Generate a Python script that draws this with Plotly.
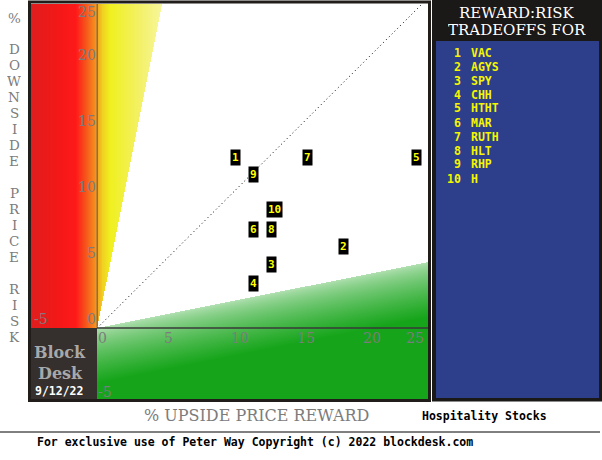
import zlib, struct, base64
import numpy as np
import plotly.graph_objects as go

# ---- data ----
ranks = [1, 2, 3, 4, 5, 6, 7, 8, 9, 10]
tickers = ["VAC", "AGYS", "SPY", "CHH", "HTHT", "MAR", "RUTH", "HLT", "RHP", "H"]
upside = [10.45, 18.6, 13.2, 11.8, 24.1, 11.8, 15.9, 13.2, 11.8, 13.4]
downside = [12.95, 6.2, 4.8, 3.4, 12.95, 7.5, 12.95, 7.5, 11.65, 8.95]
x_ticks = [0, 5, 10, 15, 20, 25]
y_ticks = [0, 5, 10, 15, 20, 25]
date_label = "9/12/22"
subtitle = "Hospitality Stocks"

X0, X1 = -5.0, 25.0
Y0, Y1 = -5.45, 24.55
W, H = 397, 396

# ---- background image (zones) ----
xs = X0 + (np.arange(W) + 0.5) * (X1 - X0) / W
ys = Y1 - (np.arange(H) + 0.5) * (Y1 - Y0) / H
XX, YY = np.meshgrid(xs, ys)
img = np.full((H, W, 3), 255.0)

def interp_colors(v, stops):
    pos = np.array([s[0] for s in stops])
    cols = np.array([s[1] for s in stops], dtype=float)
    out = np.zeros(v.shape + (3,))
    for c in range(3):
        out[..., c] = np.interp(v, pos, cols[:, c])
    return out

red_stops = [(-5, (224, 30, 30)), (-3, (244, 24, 24)), (-1.6, (255, 26, 26)),
             (-0.8, (245, 90, 28)), (-0.2, (245, 140, 32)), (0, (245, 160, 32))]
yel_stops = [(0, (245, 162, 31)), (0.4, (240, 208, 32)), (1.0, (240, 240, 32)),
             (2.0, (242, 240, 64)), (3.5, (244, 242, 112)), (5.0, (248, 248, 160))]
grn_light = np.array([182, 226, 182], dtype=float)
grn_full = np.array([22, 165, 26], dtype=float)

red = (XX < 0) & (YY >= 0)
gray = (XX < 0) & (YY < 0)
green = (XX >= 0) & (YY < XX / 5.0)
yellow = (XX >= 0) & (YY >= 5.0 * XX) & ~green

img[red] = interp_colors(XX, red_stops)[red]
img[yellow] = interp_colors(XX, yel_stops)[yellow]
img[gray] = np.array([53, 48, 45])
d = XX / 5.0 - YY
t = np.clip(d / 4.2, 0, 1) ** 0.7
gcol = grn_light[None, None, :] * (1 - t[..., None]) + grn_full[None, None, :] * t[..., None]
img[green] = gcol[green]
img = img.clip(0, 255).astype(np.uint8)

def png_uri(a):
    h, w, _ = a.shape
    raw = b"".join(b"\x00" + a[r].tobytes() for r in range(h))
    def chunk(tag, data):
        c = tag + data
        return struct.pack(">I", len(data)) + c + struct.pack(">I", zlib.crc32(c) & 0xffffffff)
    png = b"\x89PNG\r\n\x1a\n" + chunk(b"IHDR", struct.pack(">IIBBBBB", w, h, 8, 2, 0, 0, 0)) \
        + chunk(b"IDAT", zlib.compress(raw, 9)) + chunk(b"IEND", b"")
    return "data:image/png;base64," + base64.b64encode(png).decode()

fig = go.Figure()

# diagonal
fig.add_trace(go.Scatter(x=[0, 25], y=[0, 25], mode="lines",
                         line=dict(color="black", width=1, dash="1px,3px"),
                         hoverinfo="skip", showlegend=False))
# invisible points for hover
fig.add_trace(go.Scatter(x=upside, y=downside, mode="markers",
                         marker=dict(size=10, opacity=0), text=tickers,
                         hovertemplate="%{text}<br>up %{x}%<br>down %{y}%<extra></extra>",
                         showlegend=False))

ann = []
MONO = "DejaVu Sans Mono"
SERIF = "DejaVu Serif"
GRAY = "#7c7c7c"

# point labels
for r, xv, yv in zip(ranks, upside, downside):
    ann.append(dict(x=xv, y=yv, xref="x", yref="y", text="<b>%d</b>" % r, showarrow=False,
                    font=dict(family=MONO, size=11, color="#ffff00"),
                    bgcolor="black", borderpad=1, xanchor="center", yanchor="middle"))

# tick labels
for v in y_ticks:
    if v == 25:
        ann.append(dict(x=0, y=Y1, xref="x", yref="y", text=str(v), showarrow=False,
                        font=dict(family=SERIF, size=14, color=GRAY), height=14,
                        xanchor="right", yanchor="top", xshift=1, yshift=1))
    else:
        ann.append(dict(x=0, y=v, xref="x", yref="y", text=str(v), showarrow=False,
                        font=dict(family=SERIF, size=14, color=GRAY), height=14,
                        xanchor="right", yanchor="bottom", xshift=1, yshift=0))
ann.append(dict(x=0, y=-4.85, xref="x", yref="y", text="-5", showarrow=False,
                font=dict(family=SERIF, size=14, color=GRAY), height=14,
                xanchor="left", yanchor="middle", xshift=-1))
for v in x_ticks:
    if v == 25:
        ann.append(dict(x=25, y=0, xref="x", yref="y", text=str(v), showarrow=False,
                        font=dict(family=SERIF, size=14, color=GRAY), height=14,
                        xanchor="right", yanchor="top", xshift=-2, yshift=-1))
    else:
        ann.append(dict(x=v, y=0, xref="x", yref="y", text=str(v), showarrow=False,
                        font=dict(family=SERIF, size=14, color=GRAY), height=14,
                        xanchor="left", yanchor="top", xshift=-1, yshift=-1))
ann.append(dict(x=-5, y=0, xref="x", yref="y", text="-5", showarrow=False,
                font=dict(family=SERIF, size=14, color=GRAY), height=14,
                xanchor="left", yanchor="bottom", xshift=1, yshift=0))

def px(xp, yp):
    return xp / 602.0, 1 - yp / 460.0

# Y title stacked letters
ytitle = "% DOWNSIDE PRICE RISK"
for i, ch in enumerate(ytitle):
    if ch == " ":
        continue
    xp, yp = px(14, 17 + i * 15.95)
    ann.append(dict(x=xp, y=yp, xref="paper", yref="paper", text=ch, showarrow=False,
                    font=dict(family=SERIF, size=13.5, color=GRAY), height=15,
                    xanchor="center", yanchor="middle"))

# X title
xp, yp = px(256, 415)
ann.append(dict(x=xp, y=yp, xref="paper", yref="paper", text="% UPSIDE PRICE REWARD",
                showarrow=False, font=dict(family=SERIF, size=16, color=GRAY),
                xanchor="center", yanchor="middle"))

# Block Desk
for txt, yy in (("Block", 352), ("Desk", 373)):
    xp, yp = px(60, yy)
    ann.append(dict(x=xp, y=yp, xref="paper", yref="paper", text="<b>%s</b>" % txt,
                    showarrow=False, font=dict(family=SERIF, size=16, color="#a8a8a8"),
                    height=19, xanchor="center", yanchor="middle"))
xp, yp = px(33, 391)
ann.append(dict(x=xp, y=yp, xref="paper", yref="paper", text="<b>%s</b>" % date_label,
                showarrow=False, font=dict(family=MONO, size=11.5, color="white"),
                height=12, xanchor="left", yanchor="middle"))

# Panel header
for txt, yy in (("REWARD:RISK", 13), ("TRADEOFFS FOR", 30)):
    xp, yp = px(517, yy)
    ann.append(dict(x=xp, y=yp, xref="paper", yref="paper", text=txt, showarrow=False,
                    font=dict(family=SERIF, size=15, color="white"), height=16,
                    xanchor="center", yanchor="middle"))

# Panel list
for i, (r, tk) in enumerate(zip(ranks, tickers)):
    yy = 52 + 14 * i
    xp, yp = px(462.5, yy)
    ann.append(dict(x=xp, y=yp, xref="paper", yref="paper", text="<b>%d</b>" % r,
                    showarrow=False, font=dict(family=MONO, size=11.5, color="#f5f500"),
                    height=13, xanchor="right", yanchor="middle"))
    xp, yp = px(469, yy)
    ann.append(dict(x=xp, y=yp, xref="paper", yref="paper", text="<b>%s</b>" % tk,
                    showarrow=False, font=dict(family=MONO, size=11.5, color="#f5f500"),
                    height=13, xanchor="left", yanchor="middle"))

# Footer texts
xp, yp = px(420, 416)
ann.append(dict(x=xp, y=yp, xref="paper", yref="paper", text="<b>%s</b>" % subtitle,
                showarrow=False, font=dict(family=MONO, size=11.5, color="black"),
                xanchor="left", yanchor="middle"))
xp, yp = px(35, 442)
ann.append(dict(x=xp, y=yp, xref="paper", yref="paper",
                text="<b>For exclusive use of Peter Way Copyright (c) 2022 blockdesk.com</b>",
                showarrow=False, font=dict(family=MONO, size=11.5, color="black"),
                xanchor="left", yanchor="middle"))

def prect(x0, y0, x1, y1, **kw):
    a = px(x0, y0); b = px(x1, y1)
    return dict(type="rect", xref="paper", yref="paper", x0=a[0], y0=b[1], x1=b[0], y1=a[1], **kw)

shapes = [
    # axis lines
    dict(type="line", xref="x", yref="y", x0=0, y0=0, x1=25, y1=0,
         line=dict(color="#3a3a3a", width=1.5), layer="above"),
    dict(type="line", xref="x", yref="y", x0=0, y0=0, x1=0, y1=Y1,
         line=dict(color="#555555", width=1), layer="above"),
    # plot frame
    prect(29.5, 2, 429.5, 400.5, line=dict(color="#211d1b", width=3), layer="above"),
    # right panel
    prect(432, 0, 602, 401.5, fillcolor="#1b1818", line=dict(width=0), layer="below"),
    prect(436, 41, 599, 398, fillcolor="#2d3f8b", line=dict(width=0), layer="below"),
    # footer rule
    dict(type="line", xref="paper", yref="paper", x0=0, x1=600 / 602, y0=1 - 432 / 460,
         y1=1 - 432 / 460, line=dict(color="black", width=1)),
]

fig.update_layout(
    width=602, height=460, margin=dict(l=0, r=0, t=0, b=0),
    paper_bgcolor="white", plot_bgcolor="white",
    xaxis=dict(domain=[31 / 602, 428 / 602], range=[X0, X1], showgrid=False, zeroline=False,
               showticklabels=False, ticks="", fixedrange=True),
    yaxis=dict(domain=[1 - 400 / 460, 1 - 4 / 460], range=[Y0, Y1], showgrid=False,
               zeroline=False, showticklabels=False, ticks="", fixedrange=True),
    images=[dict(source=png_uri(img), xref="x", yref="y", x=X0, y=Y1, sizex=X1 - X0,
                 sizey=Y1 - Y0, sizing="stretch", layer="below", xanchor="left", yanchor="top")],
    annotations=ann, shapes=shapes, showlegend=False,
)

fig.write_html("out.html")
